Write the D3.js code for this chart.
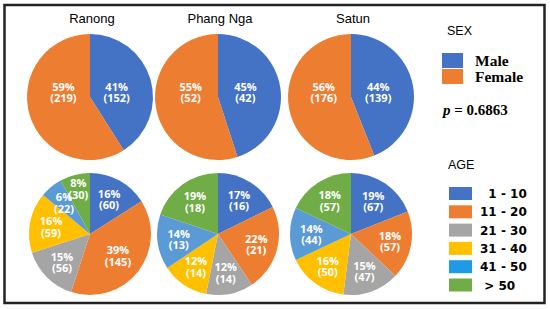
<!DOCTYPE html>
<html>
<head>
<meta charset="utf-8">
<script src="https://cdn.jsdelivr.net/npm/d3@7"></script>
<style>
  body { margin: 0; background: #fff; }
  svg { display: block; }
</style>
</head>
<body>
<div id="chart"></div>
<script>
// ---- data ----
var regions = ["Ranong", "Phang Nga", "Satun"];
var sexCategories = ["Male", "Female"];
var sexCounts = [[152, 219], [42, 52], [139, 176]];
var sexPct = [[41, 59], [45, 55], [44, 56]];
var ageCategories = ["  1 - 10", "11 - 20", "21 - 30", "31 - 40", "41 - 50", " > 50"];
var ageCounts = [[60, 145, 56, 59, 22, 30], [16, 21, 14, 14, 13, 18], [67, 57, 47, 50, 44, 57]];
var agePct = [[16, 39, 15, 16, 6, 8], [17, 22, 12, 12, 14, 19], [19, 18, 15, 16, 14, 18]];
var pValue = "0.6863";

var sexColors = ["#4472C4", "#ED7D31"];
var ageColors = ["#4472C4", "#ED7D31", "#A5A5A5", "#FFC000", "#5B9BD5", "#70AD47"];
var ageLegendColors = ["#4472C4", "#ED7D31", "#A5A5A5", "#FFC000", "#1E9BE4", "#70AD47"];

var width = 550, height = 309;

var svg = d3.select("#chart").append("svg")
    .attr("width", width)
    .attr("height", height);

// frame
svg.append("rect")
    .attr("x", 4.5).attr("y", 5)
    .attr("width", 540).attr("height", 298)
    .attr("fill", "none")
    .attr("stroke", "#222")
    .attr("stroke-width", 2.5);

var cx = d3.scaleOrdinal().domain(regions).range([90, 218, 351]);
var sexColor = d3.scaleOrdinal().domain(sexCategories).range(sexColors);
var ageColor = d3.scaleOrdinal().domain(ageCategories).range(ageColors);

var topY = 97, topR = 63;
var botY = 234, botR = 61;

var pie = d3.pie().sort(null).value(function(d) { return d.pct; });

// titles
svg.selectAll(".title")
    .data(regions)
    .enter().append("text")
    .attr("class", "title")
    .attr("x", function(d) { return cx(d) + 2; })
    .attr("y", 23)
    .attr("text-anchor", "middle")
    .style("font", "13px 'Liberation Sans', Arial, sans-serif")
    .text(function(d) { return d; });

// label radius as a share of the pie radius (tiny slices pushed outward, staggered)
function labelFactor(d) {
    var f = (d.endAngle - d.startAngle) / (2 * Math.PI);
    if (f < 0.07) return 0.67;
    if (f < 0.1) return 0.77;
    if (f > 0.3) return 0.58;
    return 0.65;
}

function drawLabels(g, arcs, R, fixedY) {
    var lab = g.selectAll(".lab")
        .data(arcs)
        .enter().append("text")
        .attr("class", "lab")
        .attr("text-anchor", "middle")
        .attr("fill", "#fff")
        .style("font", "bold 11px 'Open Sans', sans-serif");
    lab.each(function(d) {
        var mid = (d.startAngle + d.endAngle) / 2;
        var r = fixedY === undefined ? R * labelFactor(d) : R * 0.44;
        var x = r * Math.sin(mid);
        var y = fixedY === undefined ? -r * Math.cos(mid) : fixedY;
        var t = d3.select(this);
        t.append("tspan").attr("x", x).attr("y", y - 1.5).text(d.data.pct + "%");
        t.append("tspan").attr("x", x).attr("y", y + 10).text("(" + d.data.count + ")");
    });
}

regions.forEach(function(region, i) {
    // sex pie
    var sexData = sexCategories.map(function(c, j) {
        return {cat: c, pct: sexPct[i][j], count: sexCounts[i][j]};
    });
    var gs = svg.append("g")
        .attr("transform", "translate(" + cx(region) + "," + topY + ")");
    var arcS = d3.arc().innerRadius(0).outerRadius(topR);
    var sArcs = pie(sexData);
    gs.selectAll("path")
        .data(sArcs)
        .enter().append("path")
        .attr("d", arcS)
        .attr("fill", function(d) { return sexColor(d.data.cat); });
    drawLabels(gs, sArcs, topR, -5);

    // age pie
    var ageData = ageCategories.map(function(c, j) {
        return {cat: c, pct: agePct[i][j], count: ageCounts[i][j]};
    });
    var ga = svg.append("g")
        .attr("transform", "translate(" + cx(region) + "," + botY + ")");
    var arcA = d3.arc().innerRadius(0).outerRadius(botR);
    var aArcs = pie(ageData);
    ga.selectAll("path")
        .data(aArcs)
        .enter().append("path")
        .attr("d", arcA)
        .attr("fill", function(d) { return ageColor(d.data.cat); });
    drawLabels(ga, aArcs, botR);
});

// SEX legend
svg.append("text")
    .attr("x", 447).attr("y", 35)
    .style("font", "12.5px 'Liberation Sans', Arial, sans-serif")
    .text("SEX");

var sexLeg = svg.selectAll(".sexleg")
    .data(sexCategories)
    .enter().append("g")
    .attr("class", "sexleg")
    .attr("transform", function(d, i) { return "translate(442," + (53 + i * 16) + ")"; });
sexLeg.append("rect")
    .attr("width", 21).attr("height", 15)
    .attr("fill", function(d) { return sexColor(d); });
sexLeg.append("text")
    .attr("x", 33).attr("y", 12.5)
    .style("font", "bold 15.5px 'Liberation Serif', 'Times New Roman', serif")
    .text(function(d) { return d; });

var pText = svg.append("text")
    .attr("x", 443).attr("y", 115)
    .style("font", "bold 15px 'Liberation Serif', 'Times New Roman', serif");
pText.append("tspan").style("font-style", "italic").text("p");
pText.append("tspan").text(" = " + pValue);

// AGE legend
svg.append("text")
    .attr("x", 448).attr("y", 169)
    .style("font", "12.5px 'Liberation Sans', Arial, sans-serif")
    .text("AGE");

var ageLeg = svg.selectAll(".ageleg")
    .data(ageCategories)
    .enter().append("g")
    .attr("class", "ageleg")
    .attr("transform", function(d, i) { return "translate(449," + (187 + i * 18.3) + ")"; });
ageLeg.append("rect")
    .attr("width", 23).attr("height", 13)
    .attr("fill", function(d, i) { return ageLegendColors[i]; });
ageLeg.append("text")
    .attr("x", 31).attr("y", 11)
    .style("font", "bold 12px 'DejaVu Sans', Verdana, sans-serif")
    .style("white-space", "pre")
    .text(function(d) { return d; });
</script>
</body>
</html>
